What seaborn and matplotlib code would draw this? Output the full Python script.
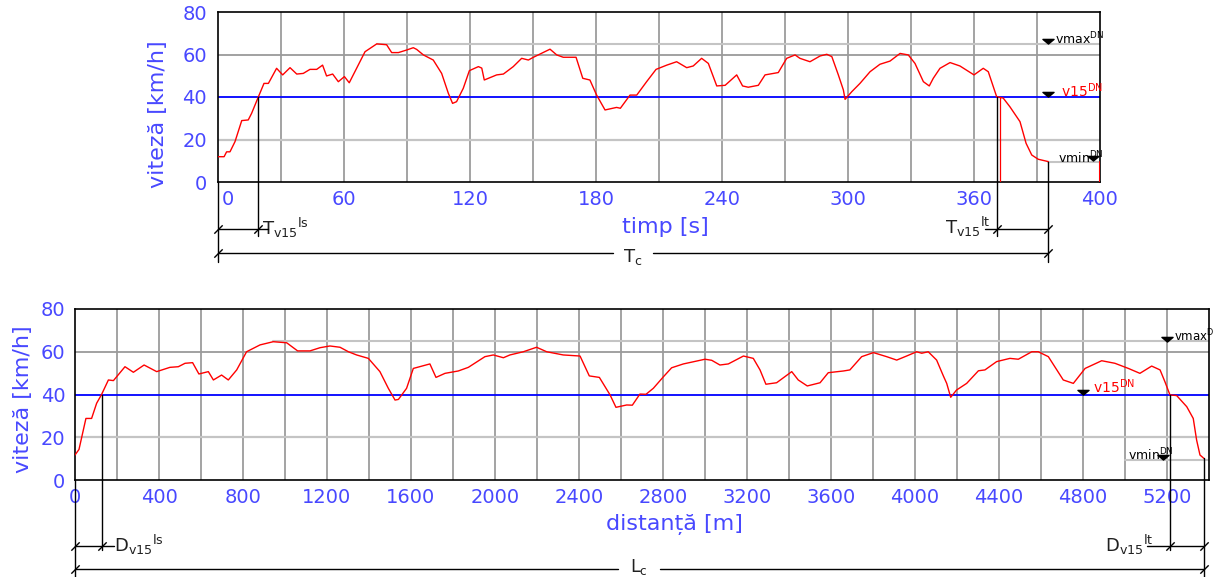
import matplotlib
matplotlib.use("Agg")
import matplotlib.pyplot as plt
import matplotlib.path as mpath
import matplotlib.transforms as mtransforms
import seaborn as sns
import numpy as np

# ---------------- data ----------------
time_s = [0, 2.9, 4.1, 5.7, 8.1, 11.3, 14.4, 16.0, 19.2, 21.9,
          24.0, 27.9, 30.8, 34.3, 37.5, 40.6, 43.8, 47.0, 49.8, 51.7,
          54.6, 57.3, 60.2, 62.5, 66.0, 70.0, 75.6, 80.3, 82.7, 85.9,
          89.8, 93.0, 94.6, 97.8, 102.5, 106.5, 109.7, 111.7, 113.6, 116.8,
          119.7, 124.0, 125.6, 126.8, 132.7, 135.9, 140.6, 144.6, 147.8, 150.2,
          158.1, 161.3, 164.4, 170.5, 173.7, 177.1, 180.3, 184.3, 189.8, 191.6,
          196.2, 199.4, 204.1, 208.6, 213.7, 218.4, 223.2, 226.3, 230.3, 233.5,
          237.5, 241.5, 247.0, 249.8, 252.5, 257.3, 260.5, 266.8, 270.8, 274.8,
          277.1, 281.9, 286.7, 289.9, 292.3, 295.4, 297.8, 298.6, 301.8, 305.7,
          310.5, 315.2, 320.0, 324.8, 328.7, 331.9, 335.9, 338.7, 340.6, 343.8,
          348.6, 353.3, 360.0, 364.4, 366.8, 370.8, 373.9, 377.1, 381.9, 384.8,
          387.5, 390.6, 395.4]
speed_t = [11.9, 11.9, 14.2, 14.2, 19.0, 28.9, 29.2, 32.3, 40.0, 46.4,
           46.4, 53.5, 50.4, 53.8, 50.8, 51.1, 53.0, 53.0, 55.0, 49.9,
           50.8, 47.2, 49.6, 46.7, 53.5, 61.3, 65.0, 64.6, 60.9, 60.9,
           62.1, 63.2, 62.4, 59.8, 57.4, 51.1, 41.7, 37.0, 37.8, 44.1,
           52.4, 54.3, 53.6, 48.0, 50.4, 50.8, 54.3, 58.2, 57.4, 58.7,
           62.5, 59.8, 58.7, 58.7, 48.8, 48.0, 40.9, 33.9, 35.1, 34.7,
           40.9, 40.9, 47.2, 53.0, 55.0, 56.6, 53.8, 54.6, 58.2, 55.8,
           45.2, 45.5, 50.4, 45.2, 44.6, 45.5, 50.4, 51.5, 58.2, 59.8,
           58.2, 56.6, 59.3, 60.1, 59.0, 50.4, 43.3, 38.9, 42.5, 46.4,
           51.9, 55.4, 56.9, 60.5, 59.8, 55.8, 47.2, 45.2, 48.8, 53.5,
           56.2, 54.6, 50.4, 53.5, 51.9, 40.1, 39.5, 35.4, 28.4, 18.2,
           12.7, 10.7, 9.6]

dist_m = [0, 19, 52, 79, 103, 127, 159, 183, 238, 278,
          329, 389, 452, 492, 524, 560, 590, 635, 659, 698,
          730, 770, 817, 881, 944, 1008, 1060, 1119, 1167, 1214,
          1262, 1302, 1341, 1397, 1452, 1492, 1524, 1540, 1579, 1611,
          1690, 1719, 1762, 1825, 1873, 1952, 1992, 2040, 2071, 2135,
          2198, 2246, 2325, 2405, 2449, 2497, 2548, 2576, 2627, 2654,
          2690, 2719, 2754, 2802, 2841, 2897, 2944, 3000, 3032, 3071,
          3111, 3183, 3230, 3262, 3290, 3341, 3413, 3444, 3487, 3548,
          3587, 3659, 3690, 3746, 3802, 3865, 3913, 3960, 4008, 4032,
          4063, 4103, 4135, 4151, 4170, 4198, 4246, 4302, 4333, 4389,
          4452, 4492, 4556, 4587, 4635, 4706, 4754, 4810, 4889, 4952,
          5016, 5071, 5127, 5167, 5190, 5214, 5246, 5294, 5325, 5341,
          5357, 5376]
speed_d = [11.7, 14.3, 28.8, 28.8, 35.9, 40.1, 46.8, 46.5, 53.0, 50.4,
           53.8, 50.7, 52.7, 53.0, 54.6, 54.9, 49.6, 50.7, 46.8, 49.1,
           46.8, 51.5, 60.0, 63.2, 64.7, 64.2, 60.4, 60.4, 61.9, 62.7,
           62.1, 60.0, 58.5, 56.9, 50.7, 42.9, 37.4, 37.7, 42.9, 52.2,
           54.3, 48.0, 49.9, 51.0, 52.7, 57.7, 58.5, 57.2, 58.5, 60.0,
           62.1, 60.0, 58.5, 58.0, 48.7, 48.0, 39.8, 34.0, 35.1, 35.0,
           40.2, 40.1, 42.9, 48.3, 52.5, 54.3, 55.3, 56.5, 56.0, 53.8,
           54.3, 58.0, 56.9, 51.5, 44.8, 45.5, 50.7, 46.8, 44.0, 45.5,
           50.2, 51.0, 51.5, 57.7, 59.6, 57.7, 56.1, 58.0, 60.0, 59.3,
           60.0, 56.1, 48.7, 45.2, 38.7, 42.1, 45.2, 51.1, 51.5, 55.4,
           56.9, 56.5, 60.0, 60.0, 57.7, 46.8, 45.2, 52.2, 55.8, 54.6,
           52.2, 49.9, 53.3, 51.5, 46.0, 39.8, 39.5, 34.3, 28.8, 18.7,
           11.7, 10.1]

v15 = 40
vmax = 65
vmin = 9.5

t_ticks = [0, 60, 120, 180, 240, 300, 360, 420]
t_ticklabels = ["0", "60", "120", "180", "240", "300", "360", "400"]
d_ticks = list(range(0, 5201, 400))
d_ticklabels = [str(v) for v in d_ticks]
y_ticks = [0, 20, 40, 60, 80]

# ---------------- style ----------------
sns.set_theme(style="white")
plt.rcParams['font.family'] = ['DejaVu Sans']
plt.rcParams['mathtext.default'] = 'regular'

BLUE_TXT = '#4848ff'
GRID_V = '#8a8a8a'
GRID_H_DARK = '#9a9a9a'
GRID_H_LIGHT = '#c4c4c4'
DIM = '#202020'

W, H = 1214, 577
fig = plt.figure(figsize=(W / 100, H / 100), dpi=100)
ax1 = fig.add_axes([218 / W, 1 - 182 / H, 882 / W, 170 / H])
ax2 = fig.add_axes([75 / W, 1 - 480 / H, 1134 / W, 171 / H])

slash = mpath.Path([(-1, -1), (1, 1)], [mpath.Path.MOVETO, mpath.Path.LINETO])
tri = mpath.Path([(-1.2, 0.45), (1.2, 0.45), (0, -0.55), (-1.2, 0.45)],
                 [1, 2, 2, 79])


def base_axes(ax, xmax, vgrid, ticks, ticklabels, ypad):
    ax.set_xlim(0, xmax)
    ax.set_ylim(0, 80)
    for g in vgrid:
        ax.axvline(g, color=GRID_V, lw=1.1, zorder=1)
    ax.axhline(20, color=GRID_H_LIGHT, lw=1.6, zorder=1)
    ax.axhline(60, color=GRID_H_DARK, lw=1.3, zorder=1)
    ax.axhline(v15, color='#0000ff', lw=1.3, zorder=2)
    ax.set_xticks(ticks)
    ax.set_xticklabels(ticklabels)
    ax.set_yticks(y_ticks)
    ax.tick_params(axis='x', length=0, pad=6, labelsize=14, labelcolor=BLUE_TXT)
    ax.tick_params(axis='y', length=0, pad=ypad, labelsize=14, labelcolor=BLUE_TXT)
    for s in ax.spines.values():
        s.set_color('black')
        s.set_linewidth(1.2)
        s.set_visible(True)
    ax.grid(False)


def kline(ax, xs, ys, color='black', lw=1.0):
    ax.plot(xs, ys, color=color, lw=lw, clip_on=False, zorder=5)


def slashes(ax, xs, y):
    ax.plot(xs, [y] * len(xs), linestyle='none', marker=slash, markersize=6,
            mec='black', mew=1.0, clip_on=False, zorder=6)


def marker(ax, x, y):
    ax.plot([x], [y], linestyle='none', marker=tri, markersize=8,
            color='black', zorder=6, clip_on=False)


# ---------------- top chart (time) ----------------
base_axes(ax1, 420, range(30, 420, 30), t_ticks, t_ticklabels, 8)
first = ax1.get_xticklabels()[0]
first.set_transform(first.get_transform() +
                    mtransforms.ScaledTranslation(10 / 100, 0, fig.dpi_scale_trans))
imax = int(np.argmax(speed_t))
ax1.plot([time_s[imax], 420], [vmax, vmax], color=GRID_H_LIGHT, lw=1.5, zorder=1)
ax1.plot([time_s[-1], 420], [vmin, vmin], color=GRID_H_LIGHT, lw=1.5, zorder=1)
sns.lineplot(x=time_s, y=speed_t, ax=ax1, color='red', linewidth=1.0,
             estimator=None, sort=False, zorder=4)
ax1.plot([372.3, 372.3], [v15, 0], color='red', lw=0.9, zorder=4)
ax1.plot([420, 420], [vmin, 0], color='red', lw=1.5, zorder=4)
ax1.set_xlabel('')
ax1.set_ylabel('viteză [km/h]', color=BLUE_TXT, fontsize=16)
ax1.yaxis.set_label_coords(-0.057, 0.40)
ax1.text(0.507, -0.265, 'timp [s]', transform=ax1.transAxes, ha='center',
         va='center', color=BLUE_TXT, fontsize=16)

t_start, t_end, t_last = time_s[8], time_s[105], time_s[-1]
kline(ax1, [0, 0], [0, -37.6])
kline(ax1, [t_start, t_start], [v15, -25.4])
kline(ax1, [0, 23.8], [-22.1, -22.1])
slashes(ax1, [0, t_start], -22.1)
ax1.text(21, -24.9, r'$\mathregular{T_{v15}{}^{ls}}$', fontsize=13, ha='left',
         va='baseline', color=DIM)
kline(ax1, [0, 188.1], [-33.4, -33.4])
kline(ax1, [207.1, t_last], [-33.4, -33.4])
slashes(ax1, [0, t_last], -33.4)
ax1.text(197.6, -37.6, r'$\mathregular{T_c}$', fontsize=13, ha='center',
         va='baseline', color=DIM)
kline(ax1, [t_end, t_end], [v15, -25.4])
kline(ax1, [t_last, t_last], [speed_t[-1], -37.6])
kline(ax1, [365.2, t_last], [-22.1, -22.1])
slashes(ax1, [t_end, t_last], -22.1)
ax1.text(346.2, -24.5, r'$\mathregular{T_{v15}{}^{lt}}$', fontsize=13, ha='left',
         va='baseline', color=DIM)

marker(ax1, 395.0, 66.4)
ax1.text(398.6, 64.6, r'vmax$^{\mathregular{DN}}$', fontsize=9, ha='left',
         va='baseline', color='black')
marker(ax1, 395.4, 41.4)
ax1.text(401.5, 40.2, r'v15$^{\mathregular{DN}}$', fontsize=10, ha='left',
         va='baseline', color='red')
marker(ax1, 416.7, 11.3)
ax1.text(400.0, 9.0, r'vmin$^{\mathregular{DN}}$', fontsize=9, ha='left',
         va='baseline', color='black')

# ---------------- bottom chart (distance) ----------------
base_axes(ax2, 5400, range(200, 5400, 200), d_ticks, d_ticklabels, 7)
jmax = int(np.argmax(speed_d))
ax2.plot([dist_m[jmax], 5400], [vmax, vmax], color=GRID_H_LIGHT, lw=1.5, zorder=1)
ax2.plot([5000, 5400], [vmin, vmin], color=GRID_H_LIGHT, lw=1.5, zorder=1)
sns.lineplot(x=dist_m, y=speed_d, ax=ax2, color='red', linewidth=1.0,
             estimator=None, sort=False, zorder=4)
ax2.set_xlabel('')
ax2.set_ylabel('viteză [km/h]', color=BLUE_TXT, fontsize=16)
ax2.yaxis.set_label_coords(-0.037, 0.47)
ax2.text(0.529, -0.263, 'distanță [m]', transform=ax2.transAxes, ha='center',
         va='center', color=BLUE_TXT, fontsize=16)

d_start, d_end, d_last = dist_m[5], dist_m[115], dist_m[-1]
kline(ax2, [0, 0], [0, -45.4])
kline(ax2, [d_start, d_start], [v15, -32.7])
kline(ax2, [0, 186], [-30.9, -30.9])
slashes(ax2, [0, d_start], -30.9)
ax2.text(186, -33.7, r'$\mathregular{D_{v15}{}^{ls}}$', fontsize=13, ha='left',
         va='baseline', color=DIM)
kline(ax2, [0, 2586], [-41.6, -41.6])
kline(ax2, [2786, d_last], [-41.6, -41.6])
slashes(ax2, [0, d_last], -41.6)
ax2.text(2686, -43.2, r'$\mathregular{L_c}$', fontsize=12.5, ha='center',
         va='baseline', color=DIM)
kline(ax2, [d_end, d_end], [v15, -32.7])
kline(ax2, [d_last, d_last], [speed_d[-1], -45.4])
kline(ax2, [5105, d_last], [-30.9, -30.9])
slashes(ax2, [d_end, d_last], -30.9)
ax2.text(4905, -33.7, r'$\mathregular{D_{v15}{}^{lt}}$', fontsize=13, ha='left',
         va='baseline', color=DIM)

marker(ax2, 5200, 66.0)
ax2.text(5232, 65.0, r'vmax$^{\mathregular{DN}}$', fontsize=8.5, ha='left',
         va='baseline', color='black', clip_on=False)
marker(ax2, 4800, 41.2)
ax2.text(4848, 40.6, r'v15$^{\mathregular{DN}}$', fontsize=10, ha='left',
         va='baseline', color='red')
marker(ax2, 5181, 10.8)
ax2.text(5014, 9.0, r'vmin$^{\mathregular{DN}}$', fontsize=9, ha='left',
         va='baseline', color='black')

fig.savefig('out.png', dpi=100)
